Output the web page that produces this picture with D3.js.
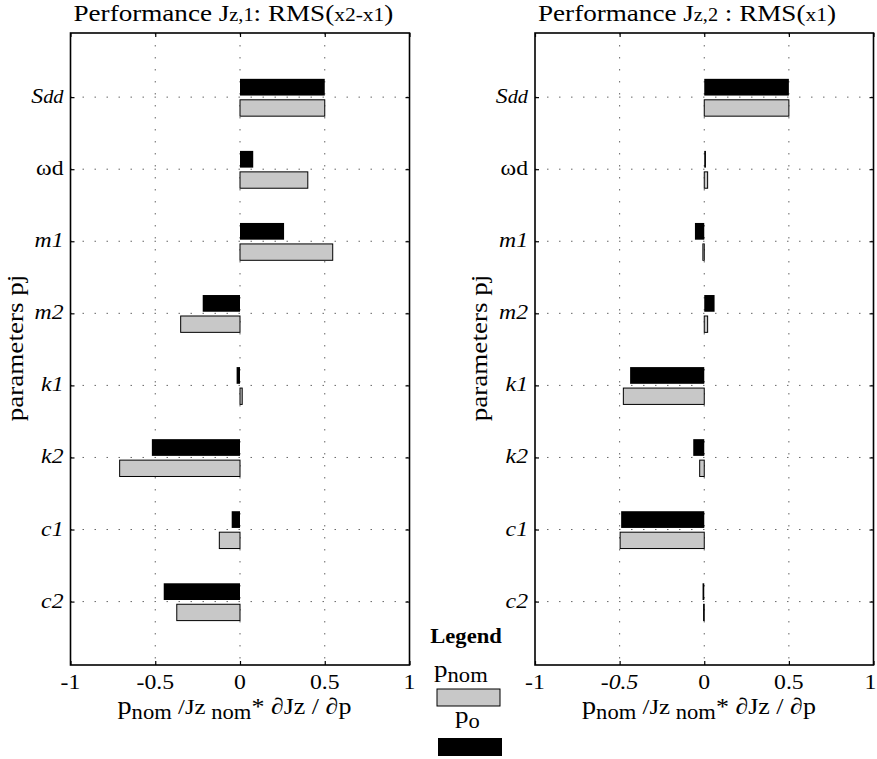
<!DOCTYPE html>
<html><head><meta charset="utf-8">
<script src="https://cdn.jsdelivr.net/npm/d3@7"></script>
<style>
body{margin:0;background:#fff;}
</style></head>
<body>
<svg id="chart" width="877" height="759" font-family="'Liberation Serif', 'Times New Roman', Tinos, Times, serif"></svg>
<script>
const categories = ["Sdd","ωd","m1","m2","k1","k2","c1","c2"];
// panel 1: Jz,1 = RMS(x2-x1)
const pnom1 = [0.50, 0.40, 0.547, -0.35, 0.013, -0.71, -0.122, -0.373];
const po1   = [0.50, 0.078, 0.26, -0.22, -0.02, -0.52, -0.049, -0.45];
// panel 2: Jz,2 = RMS(x1)
const pnom2 = [0.50, 0.02, -0.008, 0.02, -0.478, -0.027, -0.497, -0.004];
const po2   = [0.50, 0.01, -0.055, 0.061, -0.438, -0.065, -0.491, -0.01];
const xTicks = [-1, -0.5, 0, 0.5, 1];
const xTickLabels1 = ["-1","-0.5","0","0.5","1"];
const xTickLabels2 = ["-1","-0.5","0","0.5","1"];
const xDomain = [-1, 1];

const svg = d3.select("#chart");
const SX = 1.13;
const FS = 21;
const yTop = 33, yBot = 665;
const y = d3.scaleLinear().domain([0.11, 8.88]).range([yTop, yBot]);

function addText(g, x, yy, parts, anchor){
  const t = g.append("text").attr("transform", `translate(${x},${yy}) scale(${SX},1)`)
    .attr("text-anchor", anchor || "start").attr("fill","#000");
  parts.forEach(p => {
    const s = t.append("tspan").text(p.t).attr("font-size", p.fs || FS);
    if (p.it) s.attr("font-style","italic");
    if (p.b) s.attr("font-weight","bold");
    if (p.dy !== undefined) s.attr("dy", p.dy);
  });
  return t;
}

const labelParts = {
  "Sdd":[{t:"S",it:1},{t:"dd",it:1,fs:18}],
  "ωd":[{t:"ω"},{t:"d"}],
  "m1":[{t:"m1",it:1}], "m2":[{t:"m2",it:1}],
  "k1":[{t:"k1",it:1}], "k2":[{t:"k2",it:1}],
  "c1":[{t:"c1",it:1}], "c2":[{t:"c2",it:1}]
};

function panel(x0, x1, pnom, po, tickLabels, italicNeg, titleParts, ytitleY){
  const x = d3.scaleLinear().domain(xDomain).range([x0, x1]);
  const g = svg.append("g");
  const idx = categories.map((c,i)=>i+1);

  // grid
  g.selectAll(".vg").data([-0.5,0,0.5]).join("line")
    .attr("x1", d=>x(d)).attr("x2", d=>x(d)).attr("y1", yTop).attr("y2", yBot)
    .attr("stroke","#666").attr("stroke-width",1).attr("stroke-dasharray","1.5,10.5");
  g.selectAll(".hg").data(idx).join("line")
    .attr("x1", x0).attr("x2", x1).attr("y1", d=>y(d)).attr("y2", d=>y(d))
    .attr("stroke","#666").attr("stroke-width",1).attr("stroke-dasharray","1.5,10.5");

  // bars p_o (black, above)
  g.selectAll(".bo").data(po).join("rect")
    .attr("x", d=>x(Math.min(0,d))).attr("width", d=>Math.abs(x(d)-x(0)))
    .attr("y", (d,i)=>y(i+1-0.254)).attr("height", y(0.232)-y(0))
    .attr("fill","#000");
  // bars p_nom (gray, below)
  g.selectAll(".bn").data(pnom).join("rect")
    .attr("x", d=>x(Math.min(0,d))).attr("width", d=>Math.abs(x(d)-x(0)))
    .attr("y", (d,i)=>y(i+1+0.037)).attr("height", y(0.227)-y(0))
    .attr("fill","#c8c8c8").attr("stroke","#000").attr("stroke-width",1);

  // box
  g.append("rect").attr("x",x0).attr("y",yTop).attr("width",x1-x0).attr("height",yBot-yTop)
    .attr("fill","none").attr("stroke","#000").attr("stroke-width",1.6);

  // axes ticks (inward)
  const xb = d3.axisBottom(x).tickValues(xTicks).tickSize(-4).tickFormat("");
  g.append("g").attr("transform",`translate(0,${yBot})`).call(xb).call(a=>a.select(".domain").remove());
  const xt = d3.axisTop(x).tickValues(xTicks).tickSize(-4).tickFormat("");
  g.append("g").attr("transform",`translate(0,${yTop})`).call(xt).call(a=>a.select(".domain").remove());
  const yl = d3.axisLeft(y).tickValues(idx).tickSize(-4).tickFormat("");
  g.append("g").attr("transform",`translate(${x0},0)`).call(yl).call(a=>a.select(".domain").remove());
  const yr = d3.axisRight(y).tickValues(idx).tickSize(-4).tickFormat("");
  g.append("g").attr("transform",`translate(${x1},0)`).call(yr).call(a=>a.select(".domain").remove());
  g.selectAll(".tick line").attr("stroke","#000").attr("stroke-width",1.2);

  // x tick labels
  xTicks.forEach((v,i)=>{
    const xx = (v===1 && x1>800) ? x(v)-3 : x(v);
    addText(g, xx, 689, [{t:tickLabels[i], it:(italicNeg && v===-0.5)?1:0}], "middle");
  });
  // y tick labels
  categories.forEach((c,i)=>{
    addText(g, x0-7, y(i+1)+6, labelParts[c], "end");
  });
  // y title
  g.append("text").attr("transform",`translate(${x0-48},${ytitleY}) rotate(-90) scale(${SX},1)`)
    .attr("text-anchor","middle").attr("font-size",24).attr("fill","#000").text("parameters pj");
  // x title
  addText(g, x0+47, 714, [
    {t:"p",fs:25},{t:"nom",fs:20,dy:5},{t:" /Jz",fs:22,dy:-5},{t:" nom",fs:20,dy:5},{t:"* ∂Jz / ∂p",fs:23,dy:-5}
  ], "start");
  // title
  addText(g, x0+3, 21, titleParts, "start");
}

panel(70.5, 409.5, pnom1, po1, xTickLabels1, false,
  [{t:"Performance J",fs:24},{t:"z,1",fs:18},{t:": RMS(",fs:24},{t:"x2-x1",fs:19},{t:")",fs:24}], 348);
panel(535, 873.5, pnom2, po2, xTickLabels2, true,
  [{t:"Performance J",fs:24},{t:"z,2",fs:18},{t:" : RMS(",fs:24},{t:"x1",fs:19},{t:")",fs:24}], 348);

// legend
const lg = svg.append("g");
addText(lg, 466, 643, [{t:"Legend",b:1,fs:20}], "middle");
addText(lg, 434, 677, [{t:"p",fs:24},{t:"nom",fs:20,dy:5}], "start");
lg.append("rect").attr("x",437).attr("y",689).attr("width",63).attr("height",17)
  .attr("fill","#c8c8c8").attr("stroke","#000").attr("stroke-width",1);
addText(lg, 455, 723, [{t:"p",fs:24},{t:"o",fs:20,dy:5}], "start");
lg.append("rect").attr("x",438).attr("y",738).attr("width",64).attr("height",18).attr("fill","#000");
</script>
</body></html>
